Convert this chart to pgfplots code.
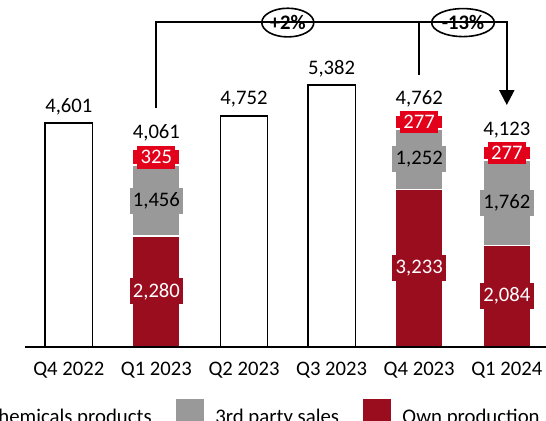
\documentclass[border=0pt]{standalone}
\usepackage{pgfplots}
\pgfplotsset{compat=1.18}
\usetikzlibrary{arrows.meta, shapes.geometric}
\usepackage{fontspec}
\setmainfont{Carlito}

\definecolor{ownprod}{HTML}{9A0D1F}
\definecolor{thirdparty}{HTML}{999999}
\definecolor{chemprod}{HTML}{E2001A}

\newcommand\lbl{\fontsize{15.5pt}{18pt}\selectfont}
\newcommand\lgd{\fontsize{15.6pt}{18pt}\selectfont}

% shared geometry: 1px of the slide = 0.75pt
\pgfplotsset{
  base/.style={
    at={(18.75pt,55.7pt)}, anchor=south west,
    scale only axis, width=394.2pt, height=255.15pt,
    xmin=-0.5, xmax=5.5, ymin=0, ymax=7000,
    clip=false,
    bar width=35.6pt,
    /pgf/number format/.cd, fixed, precision=0, 1000 sep={,}, assume math mode=true,
  },
}

\begin{document}
\begin{tikzpicture}
\useasboundingbox (0,0) rectangle (409.5pt,315.75pt);
\clip (0,0) rectangle (409.5pt,315.75pt);

% --- totals: open bars and labels above the stacks -----------------------
\begin{axis}[base, ybar, /pgf/bar shift=0pt, hide axis,
  nodes near coords,
  every node near coord/.append style={font=\lbl, anchor=base, inner sep=0pt, yshift=8.25pt, text=black},
]
\addplot[fill=white, draw=black, line width=1.1pt]
  coordinates {(0,4601) (2,4752) (3,5382)};
\addplot[draw=none, fill=none]
  coordinates {(1,4061) (4,4762) (5,4123)};
\end{axis}

% --- stacked bars, x axis, legend, growth brackets ------------------------
% (stacked nodes near coords already sit in the middle of each segment)
\begin{axis}[base, ybar stacked, axis on top,
  axis x line*=bottom, hide y axis,
  x axis line style={line width=1.25pt},
  xtick={0,...,5},
  xticklabels={Q4 2022, Q1 2023, Q2 2023, Q3 2023, Q4 2023, Q1 2024},
  major tick length=0pt,
  xticklabel style={font=\lbl, anchor=base, yshift=-21.2pt},
  nodes near coords,
  point meta=rawy,
  every node near coord/.append style={font=\lbl, anchor=center,
    inner xsep=2.5pt, inner ysep=3.5pt},
  legend columns=3,
  reverse legend,
  legend image code/.code={\path[#1, draw=none] (0pt,-4pt) rectangle (21pt,14pt);},
  legend style={draw=none, fill=none, font=\lgd, inner sep=0pt,
    nodes={inner sep=0pt},
    at={(0.9798,-0.193)}, anchor=east,
    /tikz/every odd column/.append style={column sep=8.6pt},
    /tikz/every even column/.append style={column sep=18pt}},
]
\addplot[fill=ownprod, draw=white, line width=1.1pt,
  every node near coord/.append style={fill=ownprod, text=white}]
  coordinates {(1,2280) (4,3233) (5,2084)};
\addlegendentry{Own production}
\addplot[fill=thirdparty, draw=white, line width=1.1pt,
  every node near coord/.append style={fill=thirdparty, text=black}]
  coordinates {(1,1456) (4,1252) (5,1762)};
\addlegendentry{3rd party sales}
\addplot[fill=chemprod, draw=white, line width=1.1pt,
  every node near coord/.append style={fill=chemprod, text=white}]
  coordinates {(1,325) (4,277) (5,277)};
\addlegendentry{Chemicals products}

\draw[line width=1.6pt, -{Triangle[width=11.25pt, length=11.25pt]}]
  (axis cs:1,4905) -- (axis cs:1,6687) -- (axis cs:5,6687) -- (axis cs:5,4973);
\draw[line width=1.6pt] (axis cs:4,6687) -- (axis cs:4,5591);
\node[draw, ellipse, line width=1.2pt, fill=white, inner sep=0pt,
  minimum width=39pt, minimum height=21.5pt, font=\lbl\bfseries]
  at (axis cs:2.5,6670) {+2\%};
\node[draw, ellipse, line width=1.2pt, fill=white, inner sep=0pt,
  minimum width=47pt, minimum height=21pt, font=\lbl\bfseries]
  at (axis cs:4.5,6670) {-13\%};
\end{axis}
\end{tikzpicture}
\end{document}
